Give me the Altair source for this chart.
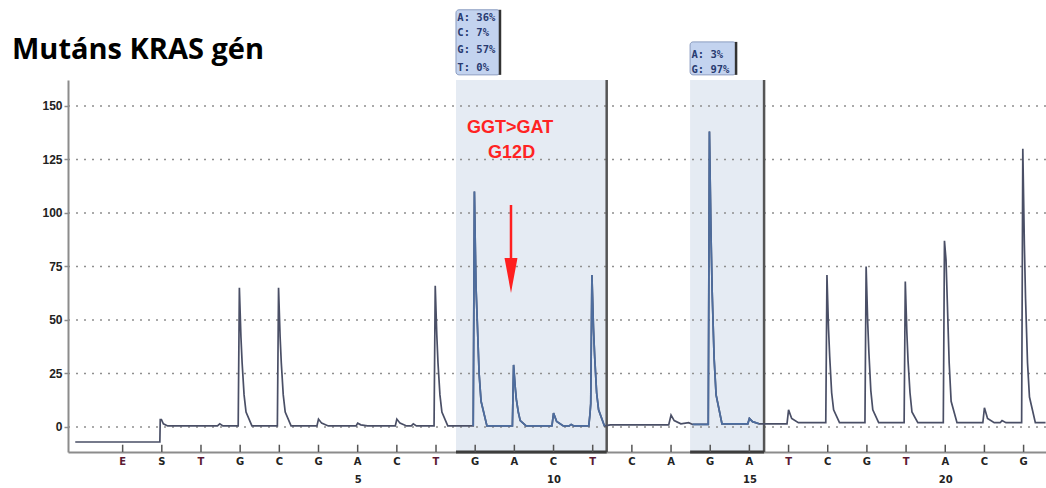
import altair as alt
import pandas as pd

# ---------------- data ----------------
title_text = "Mutáns KRAS gén"

# dispensation order (position index: E=-1, S=0, then 1..22)
disp_pos = list(range(-1, 23))
disp_letters = ["E", "S", "T", "G", "C", "G", "A", "C", "T", "G", "A", "C",
                "T", "C", "A", "G", "A", "T", "C", "G", "T", "A", "C", "G"]
number_ticks = [5, 10, 15, 20]
y_ticks = [0, 25, 50, 75, 100, 125, 150]

# analysed (shaded) regions in dispensation units
region_start = [7.51, 13.486]
region_end = [11.357, 15.375]

# allele frequency boxes
box1_lines = ["A:  36%", "C:  7%", "G:  57%", "T:  0%"]
box2_lines = ["A:  3%", "G:  97%"]

annot_lines = ["GGT>GAT", "G12D"]

# pyrogram trace (x in dispensation units, y signal)
trace_x = [
    -2.21, -0.05, -0.04, -0.01, 0.04, 0.15,
    1.42, 1.48, 1.56,
    1.95, 1.98, 2.02, 2.05, 2.10, 2.15, 2.30,
    2.95, 2.98, 3.02, 3.05, 3.10, 3.15, 3.30,
    3.96, 4.00, 4.08, 4.25,
    4.96, 5.00, 5.08, 5.25,
    5.96, 6.00, 6.08, 6.25,
    6.37, 6.42, 6.50,
    6.95, 6.98, 7.02, 7.05, 7.10, 7.15, 7.30,
    7.95, 7.98, 8.02, 8.05, 8.10, 8.15, 8.30,
    8.95, 8.98, 9.02, 9.05, 9.10, 9.15, 9.30,
    9.96, 10.00, 10.08, 10.25,
    10.40, 10.45, 10.52,
    10.90, 10.93, 10.95, 10.98, 11.02, 11.05, 11.10, 11.15, 11.30,
    11.45,
    12.94, 13.00, 13.08, 13.25,
    13.45, 13.55,
    13.95, 13.98, 14.02, 14.05, 14.10, 14.15, 14.30,
    14.96, 15.00, 15.08, 15.25,
    15.96, 16.00, 16.08, 16.25,
    16.95, 16.98, 17.02, 17.05, 17.10, 17.15, 17.30,
    17.95, 17.98, 18.02, 18.05, 18.10, 18.15, 18.30,
    18.95, 18.98, 19.02, 19.05, 19.10, 19.15, 19.30,
    19.95, 19.98, 20.02, 20.05, 20.10, 20.15, 20.30,
    20.96, 21.00, 21.08, 21.25,
    21.40, 21.45, 21.55,
    21.95, 21.98, 22.02, 22.05, 22.10, 22.15, 22.30, 22.56,
]
trace_y = [
    -7, -7, 3.5, 3.5, 1.5, 0.5,
    0.5, 1.5, 0.5,
    0.5, 65, 42, 30, 15, 7, 0.5,
    0.5, 65, 42, 30, 15, 7, 0.5,
    0.5, 3.7, 1.8, 0.5,
    0.5, 1.8, 1.0, 0.5,
    0.5, 3.7, 1.8, 0.5,
    0.5, 1.5, 0.5,
    0.5, 66, 43, 30, 15, 7, 0.5,
    0.5, 110, 66, 51, 25, 12, 0.5,
    0.5, 29, 19, 13, 7, 3, 0.5,
    0.5, 6.5, 2.6, 0.5,
    0.5, 1.2, 0.5,
    0.5, 6, 11, 71, 46, 33, 16, 8, 0.5,
    1.0,
    1.0, 5.6, 3.0, 1.5,
    2.0, 1.2,
    1.2, 138, 90, 63, 32, 15, 1.5,
    1.5, 4.0, 2.5, 1.5,
    1.5, 8.0, 4.0, 2.0,
    2, 71, 46, 33, 16, 8, 2,
    2, 75, 49, 35, 17, 8, 2,
    2, 68, 44, 31, 16, 7, 2,
    2, 87, 78, 60, 30, 12, 2,
    2, 9.0, 4.0, 2,
    2, 3.0, 2,
    2, 130, 85, 60, 30, 14, 2, 2,
]

# ---------------- layout constants ----------------
Y_MIN, Y_MAX = -11.68, 162.1
X_MIN, X_MAX = -2.395, 22.572
BOX1_X, BOX2_X = (7.51, 8.633), (13.486, 14.66)
BOX1_Y, BOX2_Y = (164.5, 194.9), (164.5, 179.9)
BOX1_ROWS = [191.0, 183.9, 176.2, 167.6]
BOX2_ROWS = [173.8, 166.8]
BOX_TEXT_X = [7.545, 13.52]
ARROW_X, ARROW_TOP, ARROW_BOT, HEAD_Y = 8.914, 103.7, 76.0, 70.8
ANNOT_X = [8.89, 8.93]
ANNOT_Y = [137.4, 125.7]

xs = alt.Scale(domain=[X_MIN, X_MAX], nice=False, zero=False)
ys = alt.Scale(domain=[Y_MIN, Y_MAX], nice=False, zero=False)

x_axis = alt.Axis(values=number_ticks, grid=False, ticks=False, title=None,
                  domainColor="#8c8c8c", domainWidth=2, labelPadding=22,
                  labelFont="DejaVu Sans", labelFontWeight="bold",
                  labelFontSize=10, labelColor="#222222")
y_axis = alt.Axis(values=y_ticks, grid=False, title=None,
                  domainColor="#8c8c8c", domainWidth=2, tickColor="#8c8c8c",
                  tickSize=4, tickWidth=1.5, labelPadding=2,
                  labelFont="Liberation Sans", labelFontWeight="bold",
                  labelFontSize=12, labelColor="#222222")


def X(f):
    return alt.X(f"{f}:Q", scale=xs, axis=x_axis)


def Y(f):
    return alt.Y(f"{f}:Q", scale=ys, axis=y_axis)


shade_df = pd.DataFrame({"x0": region_start, "x1": region_end,
                         "y0": [Y_MIN] * 2, "y1": [Y_MAX] * 2})
shade = alt.Chart(shade_df).mark_rect(color="#e5ebf3").encode(
    x=X("x0"), x2="x1", y=Y("y0"), y2="y1")

grid = alt.Chart(pd.DataFrame({"v": y_ticks})).mark_rule(
    color="#8f8f8f", strokeDash=[2, 6], strokeWidth=1.5).encode(y=Y("v"))

borders = alt.Chart(shade_df).mark_rule(color="#555555", strokeWidth=2.5).encode(
    x=X("x1"), y=Y("y0"), y2="y1")

axis_dark = alt.Chart(shade_df).mark_rule(color="#3d3d3d", strokeWidth=3).encode(
    x=X("x0"), x2="x1", y=Y("y0"))

trace_df = pd.DataFrame({"x": trace_x, "y": trace_y, "i": range(len(trace_x))})
trace = alt.Chart(trace_df).mark_line(color="#4a4f66", strokeWidth=1.7).encode(
    x=X("x"), y=Y("y"), order="i:Q")
trace_blue = alt.Chart(trace_df).transform_filter(
    f"(datum.x >= {region_start[0]} && datum.x <= {region_end[0]}) || "
    f"(datum.x >= {region_start[1]} && datum.x <= {region_end[1]})"
).transform_calculate(seg="datum.x < 12.5 ? 1 : 2").mark_line(
    color="#4d6d9f", strokeWidth=1.7).encode(
    x=X("x"), y=Y("y"), order="i:Q", detail="seg:N")

tick_df = pd.DataFrame({"x": disp_pos, "letter": disp_letters,
                        "y0": [Y_MIN] * len(disp_pos),
                        "y1": [Y_MIN + 3.4] * len(disp_pos)})
ticks = alt.Chart(tick_df).mark_rule(color="#555555", strokeWidth=1.5).encode(
    x=X("x"), y=Y("y0"), y2="y1")
letters = alt.Chart(tick_df).mark_text(
    baseline="middle", dy=10, font="DejaVu Sans", fontWeight="bold", fontSize=10
).encode(
    x=X("x"), y=Y("y0"), text="letter:N",
    color=alt.condition(alt.FieldOneOfPredicate(field="letter", oneOf=["E", "T"]),
                        alt.value("#5c1a33"), alt.value("#222222")))

box_df = pd.DataFrame({"x0": [BOX1_X[0], BOX2_X[0]], "x1": [BOX1_X[1], BOX2_X[1]],
                       "y0": [BOX1_Y[0], BOX2_Y[0]], "y1": [BOX1_Y[1], BOX2_Y[1]]})
boxes = alt.Chart(box_df).mark_rect(fill="#c3d3ef", stroke="#8a9cc0", strokeWidth=1,
                                    cornerRadius=3).encode(
    x=X("x0"), x2="x1", y=Y("y0"), y2="y1")
box_shadow = alt.Chart(box_df).mark_rule(color="#333333", strokeWidth=2.5).encode(
    x=X("x1"), y=Y("y0"), y2="y1")
box_text_df = pd.DataFrame({
    "t": box1_lines + box2_lines,
    "x": [BOX_TEXT_X[0]] * len(box1_lines) + [BOX_TEXT_X[1]] * len(box2_lines),
    "y": BOX1_ROWS + BOX2_ROWS})
box_text = alt.Chart(box_text_df).mark_text(
    align="left", baseline="middle", font="DejaVu Sans Mono", fontSize=10.5,
    fontWeight="bold", color="#283a70").encode(x=X("x"), y=Y("y"), text="t:N")

arrow_df = pd.DataFrame({"x": [ARROW_X], "y0": [ARROW_TOP], "y1": [ARROW_BOT],
                         "h": [HEAD_Y]})
arrow = alt.Chart(arrow_df).mark_rule(color="#ff1f1f", strokeWidth=2.5).encode(
    x=X("x"), y=Y("y0"), y2="y1")
head = alt.Chart(arrow_df).mark_point(
    shape="M-0.37,-1L0.37,-1L0,1Z", size=1225, filled=True, color="#ff1f1f",
    opacity=1, strokeWidth=0).encode(x=X("x"), y=Y("h"))

annot_df = pd.DataFrame({"t": annot_lines, "x": ANNOT_X, "y": ANNOT_Y})
annot = alt.Chart(annot_df).mark_text(
    align="center", baseline="alphabetic", font="Liberation Sans",
    fontWeight="bold", fontSize=18, color="#ff2323").encode(
    x=X("x"), y=Y("y"), text="t:N")

chart = alt.layer(
    shade, grid, borders, axis_dark, boxes, box_shadow, box_text,
    trace, trace_blue, ticks, letters, arrow, head, annot
).properties(
    width=978, height=372,
    title=alt.TitleParams(text=title_text, font="Open Sans", fontSize=29,
                          fontWeight="bold", color="#000000", anchor="start",
                          frame="group", dx=-56, offset=0,
                          baseline="alphabetic", dy=79),
    padding={"left": 68, "top": 80, "right": 0, "bottom": 36},
    autosize=alt.AutoSizeParams(type="none"),
    background="white",
).configure_view(stroke=None)

chart.save("out.html", embed_options={"renderer": "svg", "actions": False})
